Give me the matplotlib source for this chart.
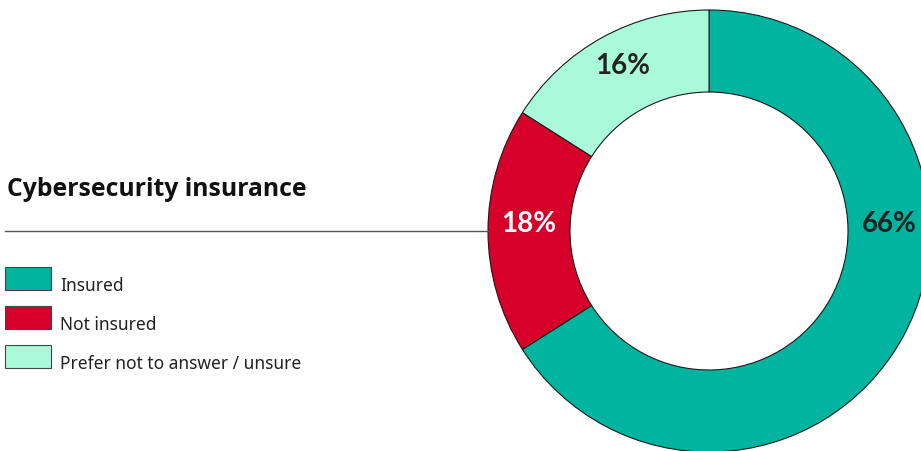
import matplotlib.pyplot as plt
import numpy as np
from matplotlib.patches import Rectangle

# data
categories = ["Insured", "Not insured", "Prefer not to answer / unsure"]
shares = [66, 18, 16]
colors = ["#00B4A0", "#D6002A", "#A8FADA"]
label_colors = ["#222222", "#FFFFFF", "#222222"]
title = "Cybersecurity insurance"

W, H = 921, 452
fig = plt.figure(figsize=(W / 100, H / 100), dpi=100)
ax = fig.add_axes([0, 0, 1, 1])

# donut, laid out in pixel units (y measured up from the bottom)
cx, cy = 709, H - 232
r_out, r_in = 221, 139
ax.pie(shares, colors=colors, startangle=90, counterclock=False,
       radius=r_out, center=(cx, cy),
       wedgeprops=dict(width=r_out - r_in, edgecolor="#1a1a1a", linewidth=0.8))

# percentage labels: segment midpoints, except the big slice sits at 3 o'clock
fracs = np.array(shares) / sum(shares)
mids = 90 - 360 * (np.cumsum(fracs) - fracs / 2)
mids[0] = 0
r_lab = (r_out + r_in) / 2
for v, a, c in zip(shares, mids, label_colors):
    ax.text(cx + r_lab * np.cos(np.radians(a)), cy + r_lab * np.sin(np.radians(a)) + 8,
            f"{v}%", ha="center", va="center", fontsize=20, fontweight="bold",
            family="Lato", color=c)

# title + rule
ax.text(7, H - 196, title, ha="left", va="baseline", fontsize=17.8,
        fontweight="bold", family="Open Sans", color="#111111")
ax.plot([5, cx - r_out], [cy, cy], color="#555555", linewidth=1)

# legend
for i, (name, c) in enumerate(zip(categories, colors)):
    bottom = H - 291 - 39 * i
    ax.add_patch(Rectangle((5, bottom), 46, 23, facecolor=c,
                           edgecolor="#444444", linewidth=0.8))
    ax.text(60, bottom, name, ha="left", va="baseline", fontsize=12.5,
            family="Noto Sans", color="#222222")

ax.set_xlim(0, W)
ax.set_ylim(0, H)
ax.set_aspect("equal")
ax.axis("off")

fig.savefig("out.png", dpi=100, facecolor="white")
